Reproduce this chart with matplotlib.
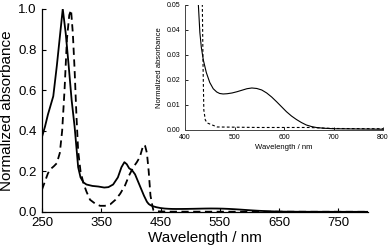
import matplotlib
matplotlib.use("Agg")
import matplotlib.pyplot as plt

plt.rcParams['font.family'] = ['Liberation Sans', 'DejaVu Sans']

# Solid spectrum
wl_solid = [250, 255, 260, 265, 269, 275, 280, 285, 290, 295, 300, 305, 308, 311, 315, 320, 325,
            335, 345, 355, 362, 370, 378, 384, 389, 393, 397, 402, 407, 412, 417, 422, 427,
            430, 433, 437, 443, 450, 457, 464, 470, 477, 485, 495, 505, 515, 525, 535, 545,
            555, 565, 575, 585, 595, 605, 615, 625, 635, 645, 655, 665, 680, 700, 750, 800]
abs_solid = [0.37, 0.42, 0.48, 0.53, 0.57, 0.72, 0.86, 1.0, 0.88, 0.72, 0.55, 0.42, 0.32, 0.22,
             0.17, 0.145, 0.135, 0.128, 0.125, 0.12, 0.122, 0.135, 0.17, 0.22, 0.245, 0.235,
             0.215, 0.205, 0.185, 0.15, 0.115, 0.08, 0.05,
             0.039, 0.033, 0.028, 0.023, 0.019, 0.0165, 0.0152, 0.0146, 0.0144, 0.0145, 0.0148,
             0.0153, 0.0159, 0.0165, 0.0168, 0.0166, 0.016, 0.0148, 0.0132, 0.0113, 0.0093,
             0.0073, 0.0056, 0.0042, 0.003, 0.002, 0.0014, 0.001, 0.0007, 0.0005, 0.0004, 0.0003]

# Dashed spectrum
wl_dash = [250, 255, 260, 264, 270, 275, 280, 284, 288, 292, 296, 299, 302, 305, 308, 311, 315,
           320, 325, 331, 340, 348, 356, 365, 374, 382, 390, 397, 404, 410, 415, 418, 421, 424,
           427, 430, 433, 435, 436.5, 438, 441, 445, 465, 550, 650, 700, 800]
abs_dash = [0.11, 0.15, 0.19, 0.21, 0.225, 0.24, 0.29, 0.40, 0.60, 0.85, 0.97, 0.995, 0.88, 0.70,
            0.48, 0.30, 0.20, 0.14, 0.10, 0.06, 0.04, 0.03, 0.03, 0.037, 0.06, 0.09, 0.13, 0.18,
            0.22, 0.245, 0.27, 0.30, 0.33, 0.325, 0.29, 0.20, 0.08, 0.05, 0.025, 0.008, 0.004,
            0.0028, 0.0012, 0.001, 0.001, 0.0006, 0.0005]

main_xticks = [250, 350, 450, 550, 650, 750]
main_yticks = [0.0, 0.2, 0.4, 0.6, 0.8, 1.0]
inset_xticks = [400, 500, 600, 700, 800]
inset_yticks = [0.00, 0.01, 0.02, 0.03, 0.04, 0.05]

fig = plt.figure(figsize=(3.89, 2.49), dpi=100)
ax = fig.add_axes([0.108, 0.149, 0.838, 0.815])
ax.plot(wl_solid, abs_solid, color='black', lw=1.3)
ax.plot(wl_dash, abs_dash, color='black', lw=1.3, ls=(0, (4, 2.5)))
ax.set_xlim(250, 800)
ax.set_ylim(0, 1.0)
ax.set_xticks(main_xticks)
ax.set_yticks(main_yticks)
ax.set_yticklabels([f"{v:.1f}" for v in main_yticks])
ax.tick_params(direction='in', labelsize=9.5, length=3, width=0.8, pad=4)
for s in ['top', 'right']:
    ax.spines[s].set_visible(False)
for s in ['left', 'bottom']:
    ax.spines[s].set_linewidth(0.9)
ax.set_xlabel("Wavelength / nm", fontsize=11, labelpad=1)
ax.set_ylabel("Normalized absorbance", fontsize=11, labelpad=3)

ins = fig.add_axes([0.4756, 0.478, 0.509, 0.502])
ins.plot(wl_solid, abs_solid, color='black', lw=0.8)
ins.plot(wl_dash, abs_dash, color='black', lw=0.8, ls=(0, (2.5, 2)))
ins.set_xlim(400, 800)
ins.set_ylim(0, 0.05)
ins.set_xticks(inset_xticks)
ins.set_yticks(inset_yticks)
ins.set_yticklabels([f"{v:.2f}" for v in inset_yticks])
ins.tick_params(direction='in', labelsize=5, length=2, width=0.6, pad=3)
for s in ['top', 'right']:
    ins.spines[s].set_visible(False)
for s in ['left', 'bottom']:
    ins.spines[s].set_linewidth(0.7)
    ins.spines[s].set_color('#444444')
ins.set_xlabel("Wavelength / nm", fontsize=5.5, labelpad=2)
ins.set_ylabel("Normalized absorbance", fontsize=5.5, labelpad=3)
ins.patch.set_alpha(0)

fig.savefig("out.png", dpi=100)
